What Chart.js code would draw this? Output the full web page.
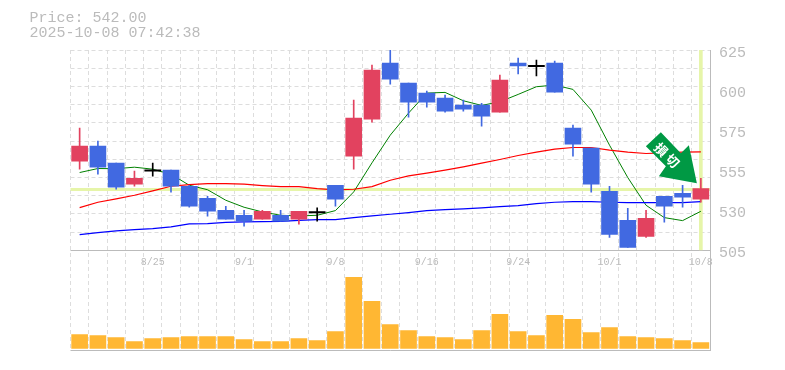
<!DOCTYPE html>
<html>
<head>
<meta charset="utf-8">
<style>
  html, body { margin: 0; padding: 0; background: #fff; }
  #wrap { position: relative; width: 785px; height: 370px; }
  #info { position: absolute; left: 29.5px; top: 11px; font: 15px/15px "Liberation Mono", monospace; color: #bbb; white-space: pre; }
</style>
<script src="https://cdn.jsdelivr.net/npm/chart.js@4.4.0/dist/chart.umd.min.js"></script>
</head>
<body>
<div id="wrap">
  <div id="info">Price: 542.00
2025-10-08 07:42:38</div>
  <canvas id="chart" width="785" height="370"></canvas>
</div>
<script>
const dates = ['8/19','8/20','8/21','8/22','8/25','8/26','8/27','8/28','8/29','9/1','9/2','9/3','9/4','9/5','9/8','9/9','9/10','9/11','9/12','9/16','9/17','9/18','9/19','9/22','9/24','9/25','9/26','9/29','9/30','10/1','10/2','10/3','10/6','10/7','10/8'];
const shownDates = ['8/25','9/1','9/8','9/16','9/24','10/1','10/8'];
const opens = [558.4,567.4,557.2,544.6,552.8,553,543.4,536.2,529,526,523.6,526,523.6,527.8,544,561.4,583.6,617.2,605.2,599.2,596.2,592,592,587.8,617.2,615.4,617.2,578.2,566.2,540.4,523,513.4,537.4,539.2,535.6];
const closes = [567.4,554.8,542.8,548.2,552.8,543.4,531.4,528.4,523.6,522.4,528.4,522.4,528.4,527.8,535.6,584.2,613,607.6,593.8,593.8,588.4,589.6,585.4,607,615.4,615.4,599.8,568.6,544.6,514.6,506.8,524.2,531.4,536.8,542];
const highs = [578.2,570.4,557.2,552.4,557.2,553,544,537.4,531.4,529,529,529,528.4,530.4,544,595,616,625,605.2,600.4,598,595,593,610,620.2,619,618.4,580,566.2,543.4,530.2,529,537.4,544,548.2];
const lows = [553.6,550.6,541.6,543.4,549.4,539.8,530.8,525.4,523.6,519.4,523.6,522.4,520.6,522.4,531.4,553.6,581.8,604.6,584.8,590.8,587.8,588.4,579.4,587.8,610.6,609.4,599.8,561.4,539.8,512.8,506.8,512.8,521.8,530.8,533.8];
const maShort = [551.6,554,553.9,554.8,553.6,550.6,544,541.3,535,530.8,528,526,525.6,526,528.8,540,557.4,574,587.2,599.2,599.6,594.6,591.8,594,598.4,603,604,601.4,589,568,548.6,532,524.6,522.8,528.4];
const maMid = [530.6,533.8,535.8,538,540.6,543.4,544.4,545,545,544.6,543.8,543.2,543.2,542,541.2,541.6,543.2,547,549.6,551.2,553,555,557.2,559.4,561.8,563.8,565.6,566.6,566.6,565,563.8,563,563.4,563.8,564];
const maLong = [514.4,515.6,516.6,517.4,518,519,520.9,521,521.8,522,522.2,522.4,523,523.4,523.4,524.6,525.6,526.6,527.6,528.8,529.4,529.8,530.4,531.2,531.8,533,533.8,534.2,534.2,533.8,533.6,533.6,533.6,533.6,534.2];
const volumes = [14,13,11,7,10,11,12,12,12,9,7,7,10,8,17,71,47,24,18,12,11,9,18,34,17,13,33,29,16,21,12,11,10,8,6];
const priceLabels = [505,530,555,575,600,625];
const lastPrice = 542;
const arrowText = '損切';

const UP = '#e2425f', DOWN = '#4169e1', DOJI = '#000000';
const HILITE = '#e6f5a9', FRAME = '#bbbbbb', GRID = '#dddddd';
const PRICE_MIN = 505, PRICE_MAX = 625;

const candleColor = closes.map((c, i) => c > opens[i] ? UP : c < opens[i] ? DOWN : DOJI);
// doji has no real body, give it a hairline so the cross shows
const bodies = closes.map((c, i) => c === opens[i] ? [c - 0.4, c + 0.4] : [opens[i], c]);
const wicks = highs.map((h, i) => [lows[i], h]);
const lastMarker = dates.map((_, i) => i === dates.length - 1 ? [PRICE_MIN, PRICE_MAX] : null);

// gridlines do not line up with the price labels, so the scale gets both sets of ticks
const gridValues = Array.from({ length: 12 }, (_, i) => PRICE_MIN + i * (PRICE_MAX - PRICE_MIN) / 11);
const labelValues = Array.from({ length: 6 }, (_, i) => PRICE_MIN + i * 24);

const lineDs = (data, color, width) => ({
  type: 'line', data, yAxisID: 'y', borderColor: color, borderWidth: width,
  pointRadius: 0, tension: 0, order: 5
});
const barDs = (data, color, thickness, yAxisID, order) => ({
  type: 'bar', data, yAxisID, backgroundColor: color, barThickness: thickness,
  grouped: false, order
});

// pale cross hair at the latest price
const priceLine = {
  id: 'priceLine',
  beforeDatasetsDraw(chart) {
    const { ctx, chartArea, scales } = chart;
    const y = Math.round(scales.y.getPixelForValue(lastPrice));
    ctx.save();
    ctx.fillStyle = HILITE;
    ctx.fillRect(chartArea.left, y - 1, chartArea.right - chartArea.left, 3);
    ctx.restore();
  }
};

// green signal arrow pointing at the latest candle
const signalArrow = {
  id: 'signalArrow',
  afterDatasetsDraw(chart) {
    const { ctx, scales } = chart;
    const last = dates.length - 1;
    const tipX = scales.x.getPixelForValue(last) - 4;
    const tipY = scales.y.getPixelForValue(highs[last]) + 5;
    const shape = [[0,0],[-38,-7],[-31,-17],[-51,-37],[-36,-51],[-16,-30],[-8,-38]];
    ctx.save();
    ctx.fillStyle = '#009944';
    ctx.beginPath();
    shape.forEach(([dx, dy], i) => i ? ctx.lineTo(tipX + dx, tipY + dy) : ctx.moveTo(tipX + dx, tipY + dy));
    ctx.closePath();
    ctx.fill();
    ctx.translate(tipX - 30, tipY - 28);
    ctx.rotate(Math.PI / 4);
    ctx.fillStyle = '#ffffff';
    ctx.font = 'bold 13px "Noto Sans CJK JP"';
    ctx.textAlign = 'center';
    ctx.textBaseline = 'middle';
    [...arrowText].forEach((ch, i) => ctx.fillText(ch, (i - 0.5) * 16, 0));
    ctx.restore();
  }
};

new Chart(document.getElementById('chart'), {
  data: {
    labels: dates,
    datasets: [
      barDs(lastMarker, HILITE, 3, 'y', 9),
      lineDs(maLong, '#0000ff', 1.2),
      lineDs(maMid, '#ff0000', 1.2),
      lineDs(maShort, '#008000', 1),
      barDs(wicks, candleColor, 1, 'y', 2),
      barDs(bodies, candleColor, 16, 'y', 1),
      barDs(volumes, '#ffb733', 16, 'yVol', 3)
    ]
  },
  options: {
    responsive: false,
    animation: false,
    layout: { padding: { left: 70.5, right: 0, top: 50, bottom: 19.5 } },
    plugins: { legend: { display: false }, tooltip: { enabled: false } },
    scales: {
      x: {
        position: { yVol: 98 },
        offset: true,
        border: { display: false, dash: [4, 3] },
        grid: { color: GRID, lineWidth: 1, drawTicks: false },
        ticks: {
          autoSkip: false, maxRotation: 0, padding: 6,
          color: FRAME, font: { family: '"Liberation Mono"', size: 10 },
          callback(value) {
            const label = this.getLabelForValue(value);
            return shownDates.includes(label) ? label : '';
          }
        }
      },
      y: {
        position: 'right', stack: 'panels', stackWeight: 2,
        min: PRICE_MIN, max: PRICE_MAX,
        afterBuildTicks(scale) {
          const extra = labelValues.slice(1, -1).map(value => ({ value }));
          scale.ticks = [...gridValues.map(value => ({ value })), ...extra].sort((a, b) => a.value - b.value);
        },
        afterFit(scale) { scale.width = 75; },
        border: {
          color: FRAME,
          dash: ctx => ctx.tick && ctx.tick.value === PRICE_MIN ? [] : [4, 3]
        },
        grid: {
          drawTicks: false,
          color(ctx) {
            if (ctx.tick.value === PRICE_MIN) return FRAME;
            return gridValues.some(v => Math.abs(v - ctx.tick.value) < 1e-6) ? GRID : 'rgba(0,0,0,0)';
          }
        },
        ticks: {
          autoSkip: false, padding: 9, labelOffset: 3,
          color: FRAME, font: { family: '"Liberation Mono"', size: 15 },
          callback(value) {
            const i = labelValues.findIndex(v => Math.abs(v - value) < 1e-6);
            return i < 0 ? '' : String(priceLabels[i]);
          }
        }
      },
      yVol: {
        position: 'right', stack: 'panels', stackWeight: 1,
        min: -2, max: 98,
        afterBuildTicks(scale) { scale.ticks = [{ value: -2 }]; },
        afterFit(scale) { scale.width = 75; },
        border: { color: FRAME },
        grid: { color: FRAME, drawTicks: false },
        ticks: { display: false }
      }
    }
  },
  plugins: [priceLine, signalArrow]
});
</script>
</body>
</html>
